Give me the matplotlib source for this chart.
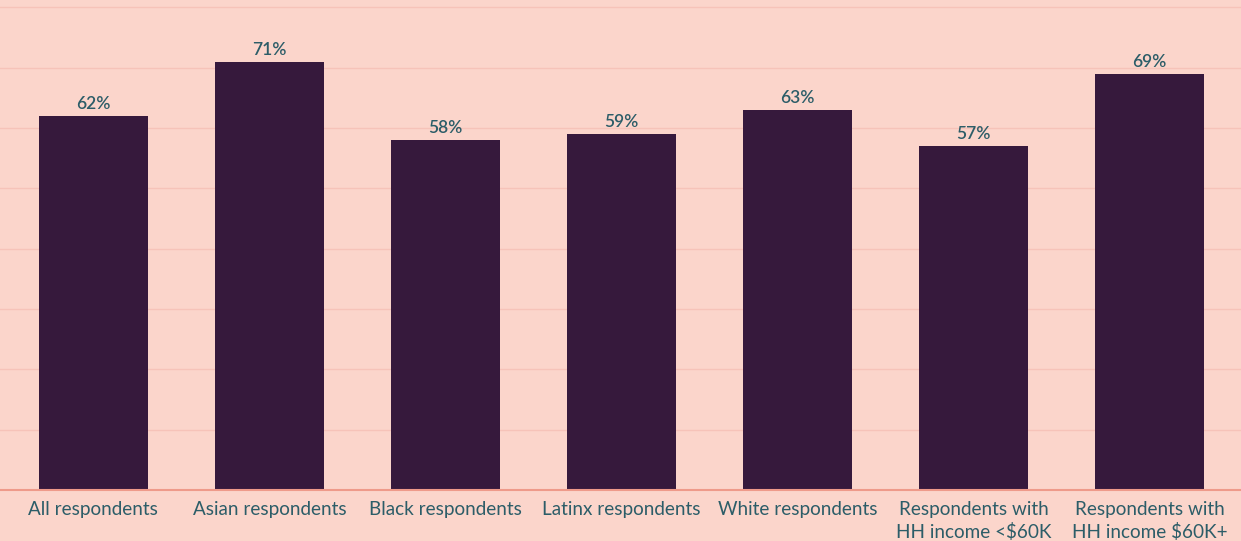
import matplotlib.pyplot as plt

categories = ["All respondents", "Asian respondents", "Black respondents",
              "Latinx respondents", "White respondents",
              "Respondents with\nHH income <$60K", "Respondents with\nHH income $60K+"]
values = [62, 71, 58, 59, 63, 57, 69]
yticks = [0, 10, 20, 30, 40, 50, 60, 70, 80]

bg = "#FBD5CB"
bar_color = "#36193C"
text_color = "#2C5D68"

plt.rcParams['font.family'] = ['Lato', 'DejaVu Sans']

fig = plt.figure(figsize=(12.41, 5.41), dpi=100, facecolor=bg)
ax = fig.add_axes([0, 0.0943, 1, 0.9057])
ax.set_facecolor(bg)

x = range(len(categories))
ax.bar(x, values, width=0.62, color=bar_color, zorder=3)

for xi, v in zip(x, values):
    ax.text(xi, v + 0.6, f"{v}%", ha="center", va="bottom", fontsize=12.5,
            color=text_color, fontweight="semibold", zorder=4)

ax.set_xlim(-0.53, 6.52)
ax.set_ylim(0, 81.2)
ax.set_yticks(yticks)
ax.grid(axis="y", color="#F6C3B9", linewidth=1, zorder=0)
ax.tick_params(axis="y", left=False, labelleft=False)
ax.tick_params(axis="x", length=0, pad=8, labelsize=13.6, labelcolor=text_color)
ax.set_xticks(list(x))
ax.set_xticklabels(categories, linespacing=1.3)

for s in ["top", "right", "left"]:
    ax.spines[s].set_visible(False)
ax.spines["bottom"].set_color("#EE9A8A")
ax.spines["bottom"].set_linewidth(1.5)
ax.spines["bottom"].set_zorder(5)

fig.savefig("out.png", dpi=100, facecolor=bg)
